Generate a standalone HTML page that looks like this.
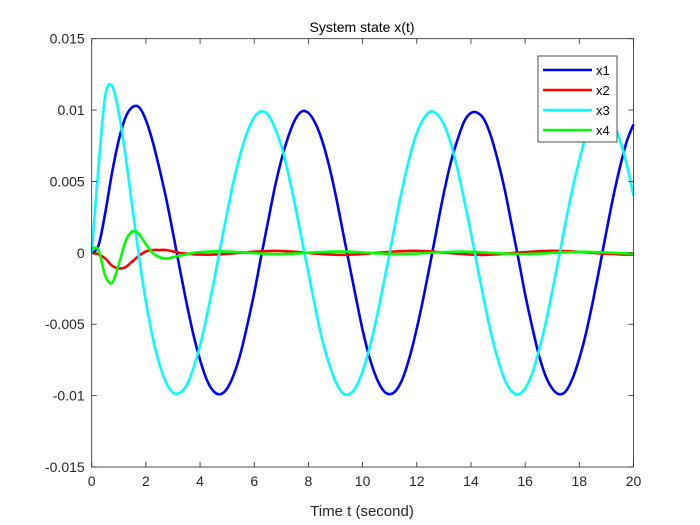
<!DOCTYPE html>
<html><head><meta charset="utf-8"><style>
body{margin:0;background:#fff;}
svg{display:block;font-family:"Liberation Sans",Arial,sans-serif;}
</style></head><body>
<svg id="chart" width="700" height="525" viewBox="0 0 700 525">
<rect x="0" y="0" width="700" height="525" fill="#fff"/>
<rect x="91.7" y="38.7" width="541.8" height="428.3" fill="#fff"/>
<g id="marks"></g>
<g id="axes"></g>
<text x="362" y="32" font-size="14" text-anchor="middle" fill="#000">System state x(t)</text>
<text x="362" y="516" font-size="15" text-anchor="middle" fill="#262626">Time t (second)</text>
<g>
<rect x="538" y="56" width="79" height="86" fill="#fff" stroke="#262626" stroke-width="0.8"/>
<g><line x1="543" y1="70" x2="592" y2="70" stroke="#0000ff" stroke-width="2.5"/><text x="596" y="75" font-size="13" fill="#000">x1</text></g>
<g><line x1="543" y1="90" x2="592" y2="90" stroke="#ff0000" stroke-width="2.5"/><text x="596" y="95" font-size="13" fill="#000">x2</text></g>
<g><line x1="543" y1="110" x2="592" y2="110" stroke="#00ffff" stroke-width="2.5"/><text x="596" y="115" font-size="13" fill="#000">x3</text></g>
<g><line x1="543" y1="130" x2="592" y2="130" stroke="#00ff00" stroke-width="2.5"/><text x="596" y="135" font-size="13" fill="#000">x4</text></g>
</g>
</svg>
<script>
const timeStep = 0.25;
const x1Values = [0,0.5,2.8,5.6,7.9,9.5,10.2,10.2,9.3,7.8,5.9,3.8,1.4,-1.1,-3.5,-5.7,-7.5,-8.9,-9.7,-9.9,-9.5,-8.5,-7.0,-5.0,-2.8,-0.3,2.1,4.5,6.5,8.1,9.3,9.9,9.8,9.1,7.9,6.2,4.1,1.7,-0.7,-3.1,-5.4,-7.3,-8.7,-9.6,-9.9,-9.6,-8.7,-7.2,-5.3,-3.1,-0.7,1.8,4.2,6.3,7.9,9.2,9.8,9.8,9.3,8.1,6.4,4.4,2.0,-0.4,-2.9,-5.1,-7.1,-8.6,-9.5,-9.9,-9.7,-8.8,-7.4,-5.6,-3.4,-1.0,1.5,3.9,6.0,7.8,9.0];
const x2Values = [0,-0.1,-0.4,-0.9,-1.1,-1.0,-0.6,-0.2,0.1,0.2,0.2,0.2,0.1,0.0,-0.05,-0.1,-0.12,-0.13,-0.12,-0.1,-0.07,-0.03,0.0,0.04,0.08,0.11,0.13,0.14,0.13,0.1,0.07,0.03,-0.01,-0.05,-0.08,-0.11,-0.13,-0.14,-0.13,-0.11,-0.08,-0.04,0.0,0.03,0.07,0.1,0.12,0.14,0.14,0.12,0.1,0.06,0.02,-0.02,-0.06,-0.09,-0.12,-0.14,-0.14,-0.12,-0.1,-0.06,-0.02,0.02,0.05,0.08,0.11,0.13,0.14,0.14,0.12,0.1,0.07,0.04,0.0,-0.03,-0.06,-0.09,-0.11,-0.12,-0.12];
const x3Values = [0,6.0,11.0,11.7,9.8,6.8,3.2,-0.3,-3.4,-5.9,-7.8,-9.1,-9.8,-9.8,-9.3,-8.1,-6.5,-4.4,-2.1,0.4,2.8,5.1,7.0,8.5,9.5,9.9,9.7,8.8,7.5,5.6,3.4,1.0,-1.4,-3.8,-6.0,-7.7,-9.0,-9.8,-9.9,-9.4,-8.3,-6.7,-4.7,-2.4,0.0,2.5,4.8,6.8,8.4,9.4,9.9,9.7,9.0,7.7,5.9,3.7,1.4,-1.1,-3.5,-5.7,-7.5,-8.9,-9.7,-9.9,-9.5,-8.5,-6.9,-5.0,-2.7,-0.3,2.2,4.5,6.5,8.2,9.3,9.9,9.8,9.1,7.9,6.2,4.0];
const x4Values = [0.3,0.2,-1.6,-2.1,-0.8,0.8,1.5,1.3,0.6,0.0,-0.3,-0.4,-0.3,-0.2,-0.1,0.0,0.05,0.08,0.1,0.1,0.09,0.07,0.04,0.01,-0.02,-0.05,-0.07,-0.08,-0.08,-0.07,-0.05,-0.02,0.01,0.04,0.06,0.08,0.09,0.09,0.08,0.06,0.03,0.0,-0.03,-0.05,-0.07,-0.08,-0.08,-0.07,-0.05,-0.02,0.01,0.03,0.05,0.07,0.08,0.08,0.07,0.05,0.03,0.0,-0.03,-0.05,-0.07,-0.08,-0.08,-0.07,-0.05,-0.03,0.0,0.02,0.04,0.06,0.07,0.07,0.06,0.04,0.02,0.0,-0.02,-0.04,-0.05];
const xTickLabels = ["0","2","4","6","8","10","12","14","16","18","20"];
const yTickValues = [0.015,0.01,0.005,0,-0.005,-0.01,-0.015];
const yTickLabels = ["0.015","0.01","0.005","0","-0.005","-0.01","-0.015"];

const L=91.7,R=633.5,T=38.7,B=467;
function xScale(t){return L+(t-0)/(20-0)*(R-L);}
function yScale(v){return B-(v-(-0.015))/(0.03)*(B-T);}
const NS="http://www.w3.org/2000/svg";
const marks=document.getElementById('marks');
const axes=document.getElementById('axes');

function smoothPath(pts){
  let d="M"+pts[0][0].toFixed(2)+","+pts[0][1].toFixed(2);
  for(let i=0;i<pts.length-1;i++){
    const p0=pts[Math.max(0,i-1)],p1=pts[i],p2=pts[i+1],p3=pts[Math.min(pts.length-1,i+2)];
    const c1x=p1[0]+(p2[0]-p0[0])/6,c1y=p1[1]+(p2[1]-p0[1])/6;
    const c2x=p2[0]-(p3[0]-p1[0])/6,c2y=p2[1]-(p3[1]-p1[1])/6;
    d+=" C"+c1x.toFixed(2)+","+c1y.toFixed(2)+" "+c2x.toFixed(2)+","+c2y.toFixed(2)+" "+p2[0].toFixed(2)+","+p2[1].toFixed(2);
  }
  return d;
}
const series=[[x1Values,"#0000ff","line-x1"],[x2Values,"#ff0000","line-x2"],[x3Values,"#00ffff","line-x3"],[x4Values,"#00ff00","line-x4"]];
series.forEach(s=>{
  const pts=s[0].map((v,i)=>[xScale(i*timeStep),yScale(v*1e-3)]);
  const p=document.createElementNS(NS,'path');
  p.setAttribute('d',smoothPath(pts));
  p.setAttribute('fill','none');
  p.setAttribute('stroke',s[1]);
  p.setAttribute('stroke-width','2.6');
  
  
  marks.appendChild(p);
});

const box=document.createElementNS(NS,'rect');
box.setAttribute('x',L);box.setAttribute('y',T);box.setAttribute('width',R-L);box.setAttribute('height',B-T);
box.setAttribute('fill','none');box.setAttribute('stroke','#262626');box.setAttribute('stroke-width','0.8');


axes.appendChild(box);

xTickLabels.forEach((lab,i)=>{
  const x=xScale(Number(lab));
  [[B,B-5],[T,T+5]].forEach(([a,b])=>{
    const l=document.createElementNS(NS,'line');
    l.setAttribute('x1',x);l.setAttribute('x2',x);l.setAttribute('y1',a);l.setAttribute('y2',b);
    l.setAttribute('stroke','#262626');l.setAttribute('stroke-width','0.8');
    
    
    axes.appendChild(l);
  });
  const t=document.createElementNS(NS,'text');
  t.setAttribute('x',x);t.setAttribute('y',B+19);t.setAttribute('font-size','14');
  t.setAttribute('text-anchor','middle');t.setAttribute('fill','#262626');
  t.textContent=lab;
  
  
  axes.appendChild(t);
});
yTickValues.forEach((v,i)=>{
  const y=yScale(v);
  [[L,L+5],[R,R-5]].forEach(([a,b])=>{
    const l=document.createElementNS(NS,'line');
    l.setAttribute('x1',a);l.setAttribute('x2',b);l.setAttribute('y1',y);l.setAttribute('y2',y);
    l.setAttribute('stroke','#262626');l.setAttribute('stroke-width','0.8');
    
    
    axes.appendChild(l);
  });
  const t=document.createElementNS(NS,'text');
  t.setAttribute('x',L-7);t.setAttribute('y',y+5);t.setAttribute('font-size','14');
  t.setAttribute('text-anchor','end');t.setAttribute('fill','#262626');
  t.textContent=yTickLabels[i];
  
  
  axes.appendChild(t);
});
</script>
</body></html>
